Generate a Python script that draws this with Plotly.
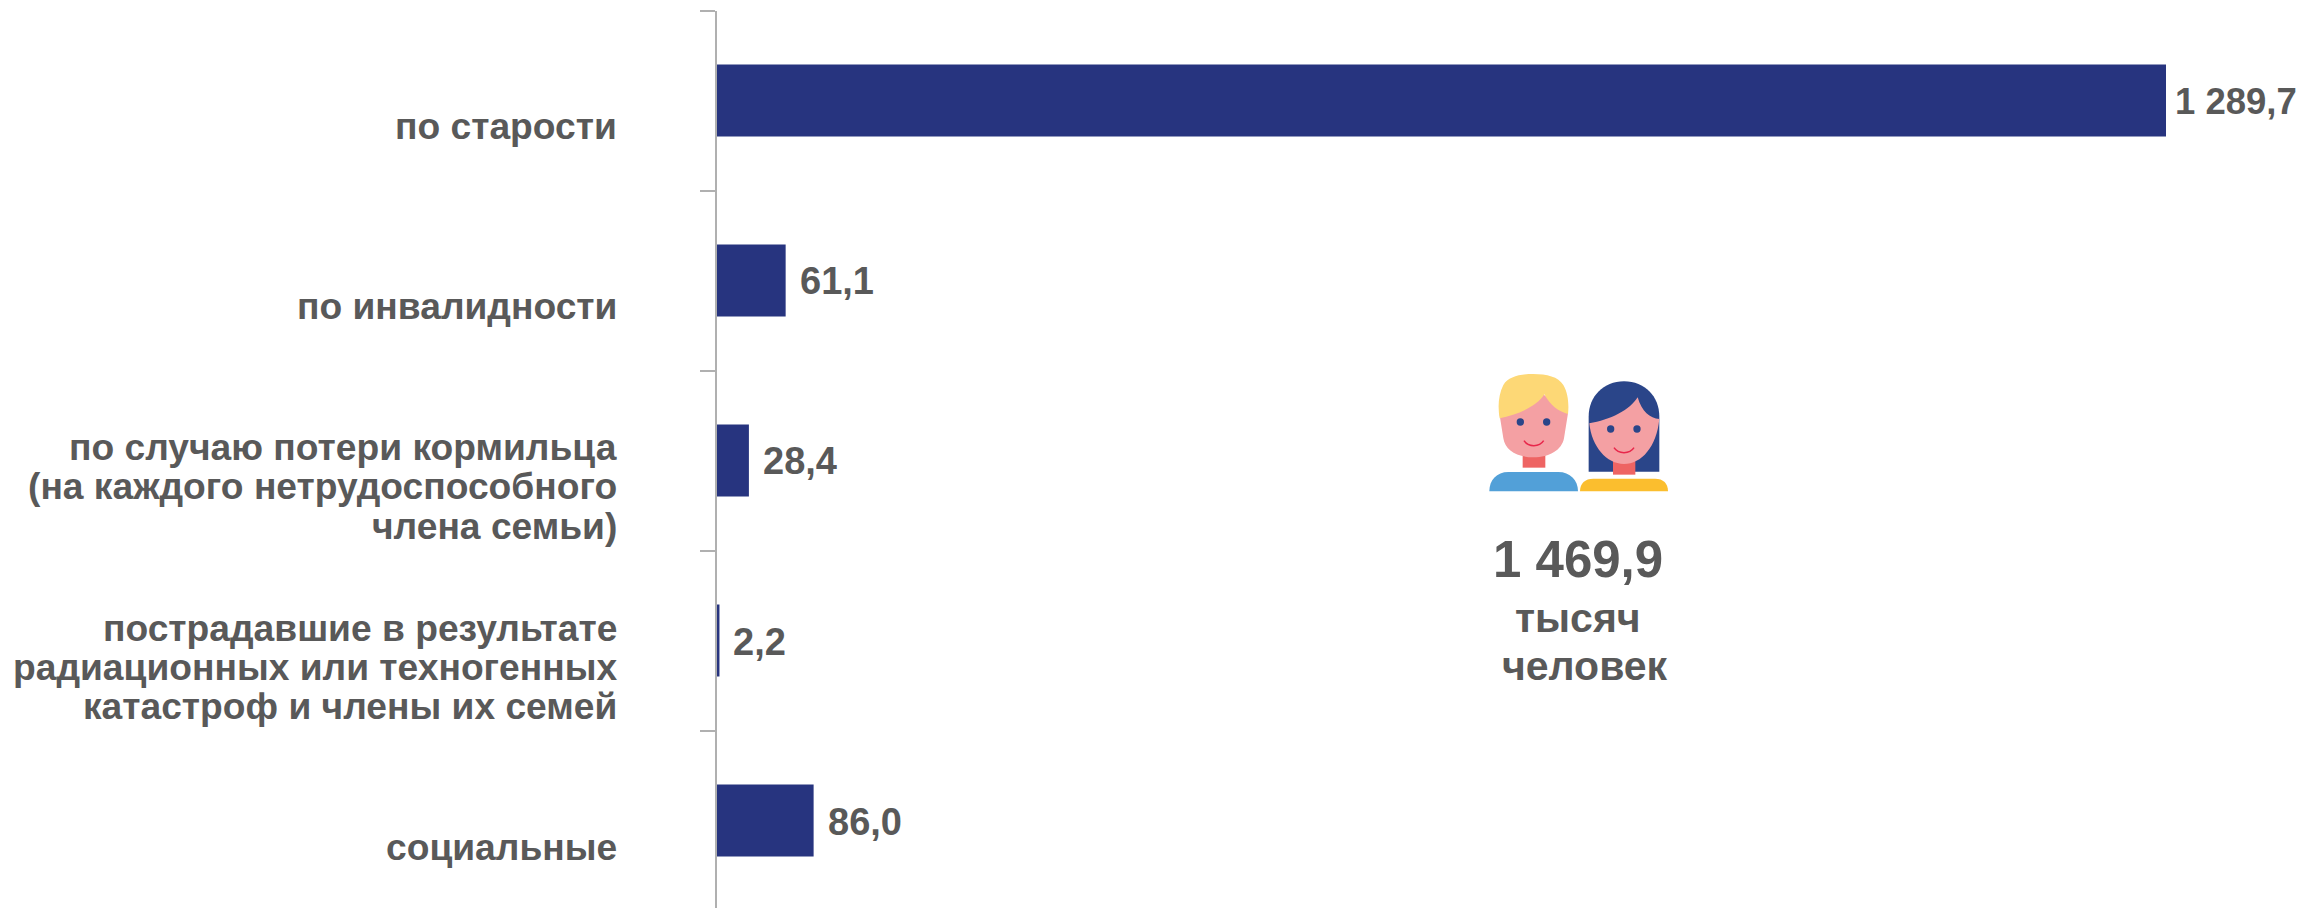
import plotly.graph_objects as go

categories = ["по старости", "по инвалидности", "по случаю потери кормильца<br>(на каждого нетрудоспособного<br>члена семьи)",
              "пострадавшие в результате<br>радиационных или техногенных<br>катастроф и члены их семей", "социальные"]
values = [1289.7, 61.1, 28.4, 2.2, 86.0]
value_labels = ["1 289,7", "61,1", "28,4", "2,2", "86,0"]
total_label = "1 469,9"
unit_lines = ["тысяч", "человек"]

W, H = 2302, 908
TEXT = "#595959"
FONT = "Liberation Sans"
NAVY = "#27347F"

X0 = 717
SCALE = (2166 - X0) / 1289.7
Y0 = 10.5
BAND = 180
LINE_STEP = 39


def zx(v):
    return (1450 + v / 3) / W


def zy(v):
    return 1 - (350 + v / 3) / H


def path(cmds):
    out = []
    for c in cmds:
        op, pts = c[0], c[1:]
        coords = " ".join(f"{zx(pts[i]):.5f},{zy(pts[i+1]):.5f}" for i in range(0, len(pts), 2))
        out.append(f"{op}{coords}")
    return " ".join(out) + " Z"


def pshape(cmds, fill):
    return dict(type="path", xref="paper", yref="paper", path=path(cmds), fillcolor=fill, line=dict(width=0), layer="above")


def dot(cx, cy, r, fill):
    return dict(type="circle", xref="paper", yref="paper", x0=zx(cx - r), x1=zx(cx + r), y0=zy(cy + r), y1=zy(cy - r),
                fillcolor=fill, line=dict(width=0), layer="above")


def smile(x0, x1, y, depth):
    d = path([("M", x0, y), ("C", x0 + 13, y + depth, x1 - 13, y + depth, x1, y)]).replace(" Z", "")
    return dict(type="path", xref="paper", yref="paper", path=d, line=dict(color="#E8274B", width=1.5), layer="above")


SKIN, NECK, BLUE = "#F4A0A3", "#EE6463", "#2A4589"
shapes = [
    # boy
    pshape([("M", 118, 424), ("C", 118, 390, 140, 366, 175, 366), ("L", 325, 366), ("C", 360, 366, 384, 390, 384, 424)], "#52A0D8"),
    pshape([("M", 218, 300), ("L", 286, 300), ("L", 286, 353), ("L", 218, 353)], NECK),
    pshape([("M", 148, 190), ("L", 160, 265), ("C", 165, 300, 200, 322, 250, 322), ("C", 300, 322, 335, 300, 342, 265), ("L", 354, 190), ("L", 250, 110)], SKIN),
    pshape([("M", 149, 205), ("C", 143, 170, 145, 135, 160, 105), ("C", 175, 80, 210, 72, 250, 72), ("C", 290, 72, 325, 80, 340, 105),
            ("C", 355, 130, 357, 165, 354, 192), ("C", 325, 185, 300, 165, 283, 133), ("C", 260, 170, 200, 195, 149, 205)], "#FDD876"),
    dot(211, 216, 11, BLUE), dot(290, 216, 11, BLUE), smile(222, 281, 272, 20),
    # girl
    pshape([("M", 416, 365), ("L", 416, 200), ("C", 416, 140, 460, 94, 522, 94), ("C", 585, 94, 628, 140, 628, 200), ("L", 628, 365)], BLUE),
    pshape([("M", 489, 320), ("L", 556, 320), ("L", 556, 374), ("L", 489, 374)], NECK),
    pshape([("M", 418, 220), ("C", 425, 290, 470, 342, 522, 342), ("C", 575, 342, 620, 290, 628, 207), ("C", 600, 205, 575, 185, 563, 142),
            ("C", 540, 180, 480, 210, 418, 220)], SKIN),
    dot(482, 237, 11, BLUE), dot(561, 237, 11, BLUE), smile(492, 552, 293, 20),
    pshape([("M", 390, 424), ("C", 390, 400, 405, 386, 430, 386), ("L", 615, 386), ("C", 640, 386, 654, 400, 654, 424)], "#FBBE2E"),
]

annotations = []
for c in categories:
    lines = c.split("<br>")
    for i, line in enumerate(lines):
        offset = (i - (len(lines) - 1) / 2) * LINE_STEP
        annotations.append(dict(x=0, y=c, xref="x", yref="y", text=line, showarrow=False, xanchor="right", yanchor="middle", align="right",
                                xshift=-(X0 - 619), yshift=-26 - offset, font=dict(family=FONT, size=37.2, color=TEXT, weight="bold")))
for c, v, t in zip(categories, values, value_labels):
    annotations.append(dict(x=v, y=c, xref="x", yref="y", text=t, showarrow=False, xanchor="left", yanchor="middle",
                            xshift=7 if v > 1000 else 12, yshift=-1,
                            font=dict(family=FONT, size=36.5 if v > 1000 else 38, color=TEXT, weight="bold")))
annotations.append(dict(x=1578 / W, y=1 - 559 / H, xref="paper", yref="paper", text=total_label, showarrow=False,
                        xanchor="center", yanchor="middle", font=dict(family=FONT, size=51, color=TEXT, weight="bold")))
annotations.append(dict(x=1578 / W, y=1 - 618 / H, xref="paper", yref="paper", text=unit_lines[0], showarrow=False,
                        xanchor="center", yanchor="middle", font=dict(family=FONT, size=41, color=TEXT, weight="bold")))
annotations.append(dict(x=1585 / W, y=1 - 666 / H, xref="paper", yref="paper", text=unit_lines[1], showarrow=False,
                        xanchor="center", yanchor="middle", font=dict(family=FONT, size=41, color=TEXT, weight="bold")))

fig = go.Figure(go.Bar(y=categories, x=values, orientation="h", marker=dict(color=NAVY, line=dict(width=0)), hoverinfo="skip"))
fig.update_layout(
    width=W, height=H, margin=dict(l=0, r=0, t=0, b=0), paper_bgcolor="white", plot_bgcolor="white",
    showlegend=False, bargap=0.6, shapes=shapes, annotations=annotations,
    xaxis=dict(domain=[X0 / W, 1], range=[0, (W - X0) / SCALE], visible=False, fixedrange=True),
    yaxis=dict(domain=[0, 1 - Y0 / H], range=[-0.5 + (H - Y0) / BAND, -0.5], type="category", categoryorder="array",
               categoryarray=categories, tickmode="array", tickvals=categories, tickson="boundaries", ticks="outside", ticklen=15,
               tickwidth=1.5, tickcolor="#B0B0B0", showticklabels=False, showline=True, linecolor="#B0B0B0", linewidth=2,
               showgrid=False, zeroline=False, fixedrange=True),
)
fig.write_html("out.html", config={"displayModeBar": False},
               post_script="document.body.style.margin='0';document.body.style.overflow='hidden';")
